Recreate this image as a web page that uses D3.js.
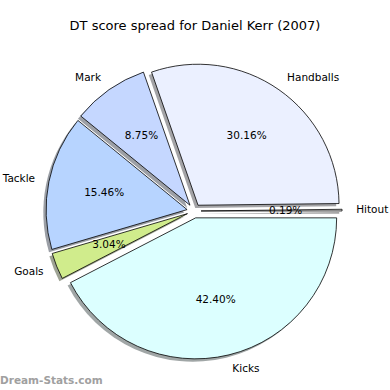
<!DOCTYPE html>
<html>
<head>
<meta charset="utf-8">
<script src="https://cdn.jsdelivr.net/npm/d3@7"></script>
<style>
  body { margin: 0; background: #fff; }
  text { font-family: "DejaVu Sans", sans-serif; }
</style>
</head>
<body>
<div id="chart"></div>
<script>
(function(){
    'use strict';

    var categories = ['Hitout', 'Handballs', 'Mark', 'Tackle', 'Goals', 'Kicks'];
    var values = [0.19, 30.16, 8.75, 15.46, 3.04, 42.40];
    var colors = ['#f4f4f4', '#ebf0ff', '#c5d7ff', '#b7d4ff', '#d0ec8c', '#dcffff'];

    var W = 390, H = 390;
    var cx = 194, cy = 211, r = 141;
    var explode = 0.05 * r;

    var svg = d3.select('#chart').append('svg')
        .attr('width', W).attr('height', H);

    // matplotlib style: start at east, go counterclockwise
    var pie = d3.pie().sort(null)
        .startAngle(Math.PI / 2)
        .endAngle(Math.PI / 2 - 2 * Math.PI);

    var arcs = pie(values);
    var arc = d3.arc().innerRadius(0).outerRadius(r);

    function dir(d){
        var a = (d.startAngle + d.endAngle) / 2;
        return [Math.sin(a), -Math.cos(a)];
    }
    function shadowColor(c){
        var k = d3.rgb(c);
        return d3.rgb(k.r * 0.3, k.g * 0.3, k.b * 0.3).toString();
    }

    var g = svg.append('g').attr('transform', 'translate(' + cx + ',' + cy + ')');

    // shadows under everything
    g.selectAll('path.shadow')
        .data(arcs).enter()
        .append('path')
        .attr('class', 'shadow')
        .attr('d', arc)
        .attr('fill', function(d, i){ return shadowColor(colors[i]); })
        .attr('fill-opacity', 0.5)
        .attr('transform', function(d){
            var v = dir(d);
            return 'translate(' + (v[0] * explode - 2.8) + ',' + (v[1] * explode + 2.8) + ')';
        });

    g.selectAll('path.wedge')
        .data(arcs).enter()
        .append('path')
        .attr('class', 'wedge')
        .attr('d', arc)
        .attr('fill', function(d, i){ return colors[i]; })
        .attr('stroke', '#000')
        .attr('stroke-width', 0.8)
        .attr('stroke-linejoin', 'round')
        .attr('transform', function(d){
            var v = dir(d);
            return 'translate(' + (v[0] * explode) + ',' + (v[1] * explode) + ')';
        });

    // labels at 1.1r, percentages at 0.6r (from exploded centre)
    g.selectAll('text.lab')
        .data(arcs).enter()
        .append('text')
        .attr('class', 'lab')
        .attr('x', function(d){ return dir(d)[0] * (explode + 1.1 * r); })
        .attr('y', function(d){ return dir(d)[1] * (explode + 1.1 * r); })
        .attr('dy', '0.3em')
        .attr('text-anchor', function(d){ return dir(d)[0] >= 0 ? 'start' : 'end'; })
        .attr('font-size', 10.5)
        .attr('fill', '#000')
        .text(function(d, i){ return categories[i]; });

    g.selectAll('text.pct')
        .data(arcs).enter()
        .append('text')
        .attr('class', 'pct')
        .attr('x', function(d){ return dir(d)[0] * (explode + 0.6 * r); })
        .attr('y', function(d){ return dir(d)[1] * (explode + 0.6 * r); })
        .attr('dy', '0.3em')
        .attr('text-anchor', 'middle')
        .attr('font-size', 10.5)
        .attr('fill', '#000')
        .text(function(d){ return d.data.toFixed(2) + '%'; });

    svg.append('text')
        .attr('x', 195).attr('y', 30)
        .attr('text-anchor', 'middle')
        .attr('font-size', 13)
        .text('DT score spread for Daniel Kerr (2007)');

    svg.append('text')
        .attr('x', 0).attr('y', 384)
        .attr('font-size', 10.5)
        .attr('font-weight', 'bold')
        .attr('fill', '#a0a0a0')
        .text('Dream-Stats.com');
}());
</script>
</body>
</html>
